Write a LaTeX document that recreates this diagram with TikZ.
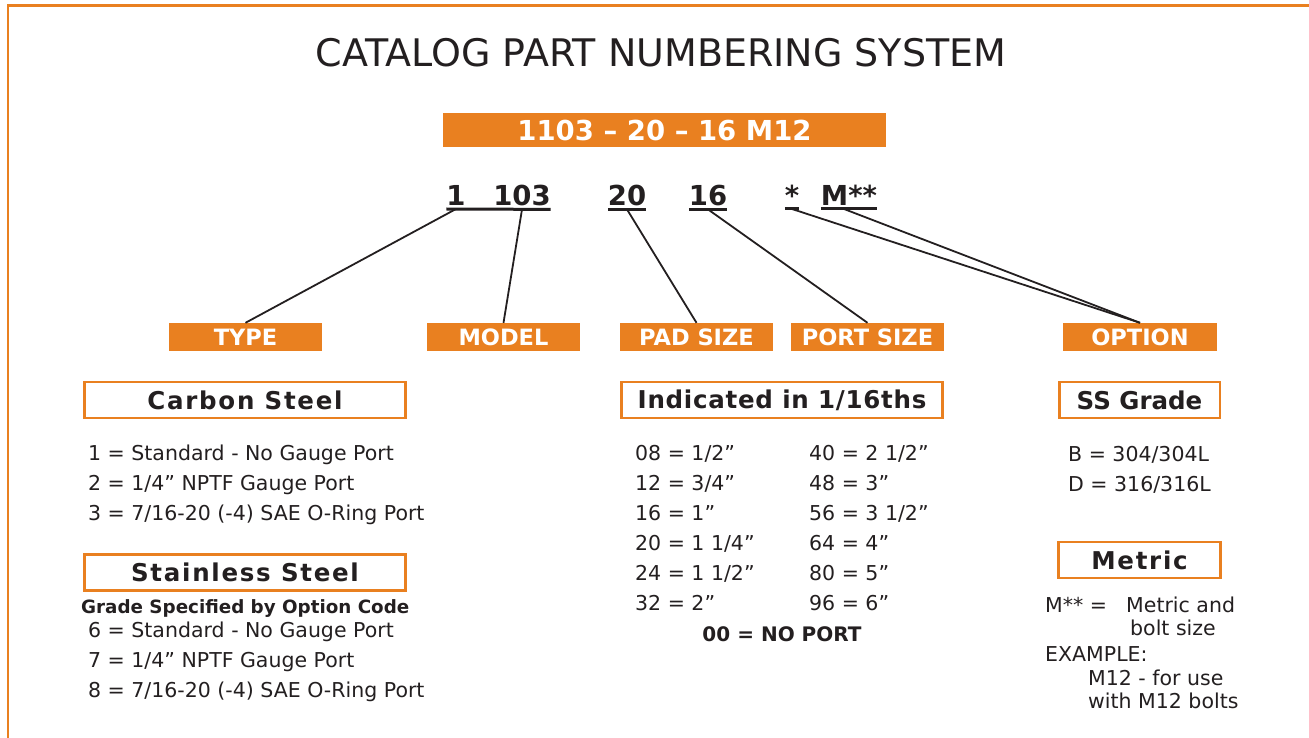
\documentclass[tikz,border=0pt]{standalone}
\usepackage{fontspec}
\setmainfont{DejaVu Sans}
\newfontfamily\spacedfont{DejaVu Sans}[LetterSpace=7]
\newfontfamily\lightspaced{DejaVu Sans}[LetterSpace=3]
\definecolor{partorange}{RGB}{233,128,32}
\definecolor{ink}{RGB}{35,31,32}
\begin{document}
\begin{tikzpicture}[x=1pt, y=-1pt, every node/.style={text=ink},
    bar/.style={fill=partorange,text=white,inner sep=0,minimum width=153,minimum height=28,font=\bfseries\fontsize{22.5}{27}\selectfont},
    headbox/.style={draw=partorange,line width=2.5pt,fill=white,inner sep=0,minimum height=36,font=\bfseries\fontsize{24.5}{29}\selectfont},
    num/.style={anchor=base,inner xsep=0,inner ysep=3pt,outer sep=0,font=\bfseries\fontsize{27.5}{32}\selectfont},
    item/.style={anchor=base west,inner sep=0,font=\fontsize{20.5}{24}\selectfont},
    uline/.style={ink,line width=3pt},
    link/.style={ink,line width=1.8pt}]
          \useasboundingbox (0,0) rectangle (1309,738);
          \draw [partorange,line width=2.6pt] (7.8,738) -- (7.8,5.3) -- (1309,5.3);
          % title and example number
          \node [anchor=base,inner sep=0,font=\fontsize{38}{45}\selectfont] (title) at (661,67) {CATALOG PART NUMBERING SYSTEM};
          \node [bar,minimum width=443,minimum height=34,font=\bfseries\fontsize{27.5}{33}\selectfont] (partno) at (664.5,130) {1103 -- 20 -- 16 M12};
          % number pieces
          \node [num] (n1) at (456,206) {1};
          \node [num] (n103) at (522,206) {103};
          \node [num] (n20) at (627,206) {20};
          \node [num] (n16) at (708,206) {16};
          \node [num] (nstar) at (792,206) {*};
          \node [num] (nmet) at (849,206) {M**};
          \draw [uline] (n1.south west) -- (n103.south east);
          \draw [uline] (n20.south west) -- (n20.south east);
          \draw [uline] (n16.south west) -- (n16.south east);
          \draw [uline] (nstar.south west) -- (nstar.south east);
          \draw [uline] (nmet.south west) -- (nmet.south east);
          % labels
          \node [bar] (type) at (245.5,337) {TYPE};
          \node [bar] (model) at (503.5,337) {MODEL};
          \node [bar] (padsize) at (696.5,337) {PAD SIZE};
          \node [bar] (portsize) at (867.5,337) {PORT SIZE};
          \node [bar,minimum width=154] (option) at (1140,337) {OPTION};
          \draw [link] (n1.south) -- (type.north);
          \draw [link] (n103.south) -- (model.north);
          \draw [link] (n20.south) -- (padsize.north);
          \draw [link] (n16.south) -- (portsize.north);
          \draw [link] (nstar.south) -- (option.north);
          \draw [link] ([xshift=-5pt]nmet.south) -- (option.north);
          % type column
          \node [headbox,minimum width=321] (carbon) at (245,400) {\spacedfont Carbon Steel};
          \node [item] (c1) at (88,460) {1 = Standard - No Gauge Port};
          \node [item] (c2) at (88,490) {2 = 1/4” NPTF Gauge Port};
          \node [item] (c3) at (88,520) {3 = 7/16-20 (-4) SAE O-Ring Port};
          \node [headbox,minimum width=321] (stainless) at (245,572.5) {\spacedfont Stainless Steel};
          \node [item,font=\bfseries\fontsize{18.3}{22}\selectfont] (gradecode) at (81,613) {Grade Specified by Option Code};
          \node [item] (s6) at (88,637) {6 = Standard - No Gauge Port};
          \node [item] (s7) at (88,667) {7 = 1/4” NPTF Gauge Port};
          \node [item] (s8) at (88,697) {8 = 7/16-20 (-4) SAE O-Ring Port};
          % size column
          \node [headbox,minimum width=321] (sixteenths) at (782,400) {\lightspaced Indicated in 1/16ths};
          \node [item] (p08) at (635,460) {08 = 1/2”};
          \node [item] (p12) at (635,490) {12 = 3/4”};
          \node [item] (p16) at (635,520) {16 = 1”};
          \node [item] (p20) at (635,550) {20 = 1 1/4”};
          \node [item] (p24) at (635,580) {24 = 1 1/2”};
          \node [item] (p32) at (635,610) {32 = 2”};
          \node [item] (p40) at (809,460) {40 = 2 1/2”};
          \node [item] (p48) at (809,490) {48 = 3”};
          \node [item] (p56) at (809,520) {56 = 3 1/2”};
          \node [item] (p64) at (809,550) {64 = 4”};
          \node [item] (p80) at (809,580) {80 = 5”};
          \node [item] (p96) at (809,610) {96 = 6”};
          \node [anchor=base,inner sep=0,font=\bfseries\fontsize{20}{24}\selectfont] (noport) at (782,641) {00 = NO PORT};
          % option column
          \node [headbox,minimum width=160.5] (ssgrade) at (1139.5,400) {SS Grade};
          \node [item] (gb) at (1068,461) {B = 304/304L};
          \node [item] (gd) at (1068,491) {D = 316/316L};
          \node [headbox,minimum width=162] (metric) at (1139.5,560) {\spacedfont Metric};
          \node [item] (m1) at (1045,612) {M** =};
          \node [item] (m2) at (1126,612) {Metric and};
          \node [item] (m3) at (1130,635) {bolt size};
          \node [item] (m4) at (1045,661) {EXAMPLE:};
          \node [item] (m5) at (1088,685) {M12 - for use};
          \node [item] (m6) at (1088,708) {with M12 bolts};
        \end{tikzpicture}
\end{document}
